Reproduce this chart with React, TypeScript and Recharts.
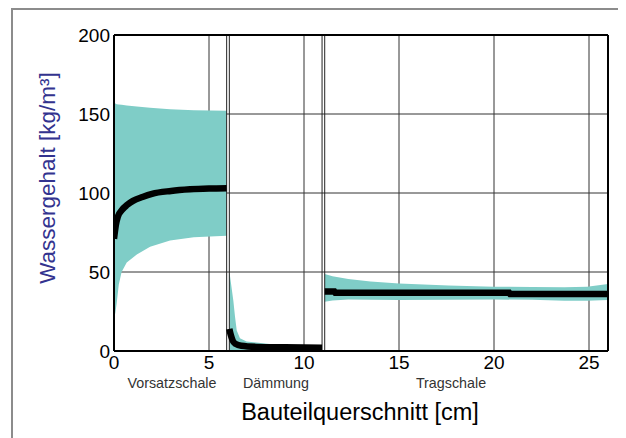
import React from 'react';
import { ComposedChart, Area, Line, XAxis, YAxis, CartesianGrid, ReferenceLine } from 'recharts';

// tick labels and layer info
const xTicks = [0, 5, 10, 15, 20, 25];
const yTicks = [0, 50, 100, 150, 200];
const layerBounds = [5.93, 6.07, 10.95, 11.09];
const layerNames = ['Vorsatzschale', 'Dämmung', 'Tragschale'];

// Vorsatzschale (0 - 6 cm)
const vorsatzX = [0, 0.07, 0.14, 0.25, 0.4, 0.67, 1.2, 1.9, 2.95, 4.2, 5.93];
const vorsatzLow = [21, 24, 30, 42, 50, 56, 61, 66, 70, 72, 73];
const vorsatzHigh = [157, 156.6, 156.2, 156, 155.8, 155.4, 154.8, 154, 153, 152.4, 152];
const vorsatzMidX = [0, 0.1, 0.2, 0.4, 0.7, 1.0, 1.5, 2, 3, 4, 5, 5.93];
const vorsatzMid = [71, 80, 85, 89, 92.5, 95, 97.5, 99.5, 101.3, 102.3, 102.8, 103];

// Dämmung (6 - 11 cm)
const daemmX = [6.07, 6.1, 6.28, 6.37, 6.46, 6.63, 6.98, 8.2, 9.95, 10.95];
const daemmLow = [0, 0, 0, 0, 0, 0, 0, 0, 0, 0];
const daemmHigh = [49, 48, 32, 21.7, 13, 8, 6, 4.4, 3, 2.4];
const daemmMidX = [6.07, 6.15, 6.25, 6.4, 6.7, 7.5, 9, 10.95];
const daemmMid = [14, 10, 6.5, 4.5, 3.3, 2.6, 2.3, 2.1];

// Tragschale (11 - 26 cm)
const tragX = [11.09, 11.5, 12.33, 13.5, 15, 17.6, 20, 22, 23.7, 24.9, 26];
const tragLow = [31.2, 32, 32.6, 32.4, 32.3, 32.5, 32.6, 32.4, 31.8, 31.8, 32.3];
const tragHigh = [48.7, 47.3, 45.6, 44, 42.8, 41.5, 40.7, 40.5, 40.3, 40.7, 42.4];
const tragMidX = [11.09, 11.6, 11.65, 15, 20.8, 20.85, 26];
const tragMid = [37.6, 37.6, 36.8, 36.8, 36.8, 36, 36];

type Row = { x: number; [key: string]: any };
const rows: Row[] = [];
const addBand = (key: string, xs: number[], lo: number[], hi: number[]) =>
  xs.forEach((x, i) => rows.push({ x, [key]: [lo[i], hi[i]] }));
const addLine = (key: string, xs: number[], ys: number[]) =>
  xs.forEach((x, i) => rows.push({ x, [key]: ys[i] }));

addBand('b1', vorsatzX, vorsatzLow, vorsatzHigh);
addBand('b2', daemmX, daemmLow, daemmHigh);
addBand('b3', tragX, tragLow, tragHigh);
addLine('m1', vorsatzMidX, vorsatzMid);
addLine('m2', daemmMidX, daemmMid);
addLine('m3', tragMidX, tragMid);
rows.sort((a, b) => a.x - b.x);

const TEAL = '#7fcdc7';
const FONT = '"Liberation Sans", Arial, sans-serif';
const tickStyle = { fontSize: 19, fill: '#000', fontFamily: FONT };

const labelBase: React.CSSProperties = {
  position: 'absolute',
  transform: 'translate(-50%, -50%)',
  whiteSpace: 'nowrap',
  lineHeight: 1,
  fontFamily: FONT,
};

export default function App() {
  const layerLabelPos = [164, 268, 443];

  return (
    <div style={{ position: 'relative', width: 618, height: 430, overflow: 'hidden', background: '#fff' }}>
      <div style={{ position: 'absolute', left: 3, top: 0, width: 700, height: 600, border: '2px solid #8c8c8c' }} />
      <ComposedChart width={618} height={430} data={rows} margin={{ top: 27, right: 18, bottom: 0, left: 0 }}>
        <CartesianGrid stroke="#333" strokeWidth={1} />
        <XAxis
          dataKey="x"
          type="number"
          domain={[0, 26]}
          ticks={xTicks}
          height={87}
          tickLine={false}
          tickSize={5}
          tickMargin={0}
          tick={tickStyle}
          axisLine={{ stroke: '#000', strokeWidth: 2 }}
          allowDataOverflow
        />
        <YAxis
          type="number"
          domain={[0, 200]}
          ticks={yTicks}
          width={106}
          tickLine={false}
          tickSize={4}
          tickMargin={0}
          tick={tickStyle}
          axisLine={{ stroke: '#000', strokeWidth: 2 }}
          allowDataOverflow
        />
        {layerBounds.map((b) => (
          <ReferenceLine key={b} x={b} stroke="#222" strokeWidth={1} />
        ))}
        <Area dataKey="b1" type="linear" stroke="none" fill={TEAL} fillOpacity={1} connectNulls isAnimationActive={false} />
        <Area dataKey="b2" type="linear" stroke="none" fill={TEAL} fillOpacity={1} connectNulls isAnimationActive={false} />
        <Area dataKey="b3" type="linear" stroke="none" fill={TEAL} fillOpacity={1} connectNulls isAnimationActive={false} />
        <Line dataKey="m1" type="monotone" stroke="#000" strokeWidth={6.5} dot={false} connectNulls isAnimationActive={false} />
        <Line dataKey="m2" type="monotone" stroke="#000" strokeWidth={6.5} dot={false} connectNulls isAnimationActive={false} />
        <Line dataKey="m3" type="linear" stroke="#000" strokeWidth={6.5} dot={false} connectNulls isAnimationActive={false} />
        <ReferenceLine y={200} stroke="#000" strokeWidth={2} />
        <ReferenceLine x={26} stroke="#000" strokeWidth={2} />
      </ComposedChart>
      {layerNames.map((n, i) => (
        <div key={n} style={{ ...labelBase, left: layerLabelPos[i], top: 375, fontSize: 14.3, color: '#333' }}>
          {n}
        </div>
      ))}
      <div style={{ ...labelBase, left: 352, top: 405, fontSize: 23.5, color: '#000' }}>Bauteilquerschnitt [cm]</div>
      <div
        style={{
          ...labelBase,
          left: 40,
          top: 170,
          fontSize: 22.5,
          color: '#33338f',
          transform: 'translate(-50%, -50%) rotate(-90deg)',
        }}
      >
        Wassergehalt [kg/m³]
      </div>
    </div>
  );
}
